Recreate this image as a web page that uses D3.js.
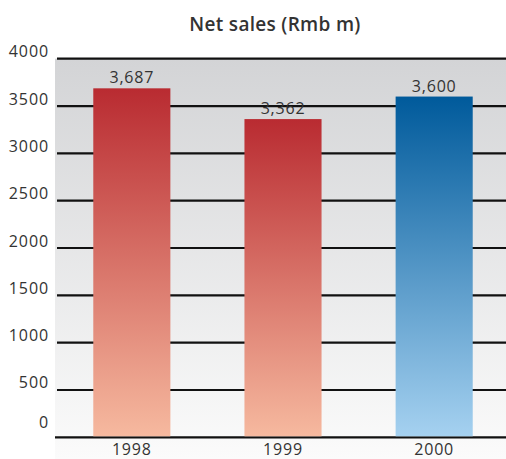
<!DOCTYPE html>
<html>
<head>
<meta charset="utf-8">
<script src="https://cdn.jsdelivr.net/npm/d3@7"></script>
<style>
  body { margin: 0; background: #fff; }
  text { font-family: "Open Sans", "DejaVu Sans", sans-serif; fill: #333; }
</style>
</head>
<body>
<svg id="chart"></svg>
<script>
// Chart data
const years = ["1998", "1999", "2000"];
const netSales = [3687, 3362, 3600];
const valueLabels = ["3,687", "3,362", "3,600"];
const yTicks = [0, 500, 1000, 1500, 2000, 2500, 3000, 3500, 4000];

const width = 506;
const height = 459;

const svg = d3.select("#chart").attr("width", width).attr("height", height);

// Plot area
const plotLeft = 57;
const plotRight = 506;

const y = d3.scaleLinear().domain([0, 4000]).range([437.3, 58.7]);
const x = d3.scaleBand()
  .domain(years)
  .range([57, 509])
  .paddingInner(0.49)
  .paddingOuter(0.24);

const defs = svg.append("defs");

// Background gradient (grey at top fading to near white)
const bg = defs.append("linearGradient")
  .attr("id", "bg-grad")
  .attr("x1", 0).attr("y1", 0).attr("x2", 0).attr("y2", 1);
bg.append("stop").attr("offset", "0%").attr("stop-color", "#d3d4d6");
bg.append("stop").attr("offset", "100%").attr("stop-color", "#fbfbfb");

// Bar gradients
function barGradient(id, top, bottom) {
  const g = defs.append("linearGradient")
    .attr("id", id)
    .attr("x1", 0).attr("y1", 0).attr("x2", 0).attr("y2", 1);
  g.append("stop").attr("offset", "0%").attr("stop-color", top);
  g.append("stop").attr("offset", "100%").attr("stop-color", bottom);
}
barGradient("red-grad", "#b92b31", "#f6b99f");
barGradient("blue-grad", "#005a9b", "#a5d1f0");

svg.append("rect")
  .attr("x", 55)
  .attr("y", y(4000))
  .attr("width", width - 55)
  .attr("height", height - y(4000))
  .attr("fill", "url(#bg-grad)");

// Title
svg.append("text")
  .attr("x", 275)
  .attr("y", 31)
  .attr("text-anchor", "middle")
  .attr("font-size", 19)
  .attr("font-weight", 600)
  .attr("letter-spacing", 0.3)
  .text("Net sales (Rmb m)");

// Grid lines
svg.append("g")
  .selectAll("line")
  .data(yTicks)
  .join("line")
  .attr("x1", d => (d === 0 ? 55 : plotLeft))
  .attr("x2", plotRight)
  .attr("y1", d => y(d))
  .attr("y2", d => y(d))
  .attr("stroke", "#111")
  .attr("stroke-width", 2.2);

// Y tick labels
svg.append("g")
  .selectAll("text")
  .data(yTicks)
  .join("text")
  .attr("x", 49)
  .attr("y", d => y(d) - (d === 0 ? 9 : 1.5))
  .attr("text-anchor", "end")
  .attr("font-size", 16)
  .attr("letter-spacing", 0.9)
  .text(d => d);

// Bars
svg.append("g")
  .selectAll("rect")
  .data(netSales)
  .join("rect")
  .attr("x", (d, i) => x(years[i]))
  .attr("width", x.bandwidth())
  .attr("y", d => y(d))
  .attr("height", d => y(0) - y(d) - 1)
  .attr("fill", (d, i) => (years[i] === "2000" ? "url(#blue-grad)" : "url(#red-grad)"));

// Value labels
svg.append("g")
  .selectAll("text")
  .data(netSales)
  .join("text")
  .attr("x", (d, i) => x(years[i]) + x.bandwidth() / 2)
  .attr("y", d => y(d) - 5)
  .attr("text-anchor", "middle")
  .attr("font-size", 16)
  .attr("letter-spacing", 0.8)
  .text((d, i) => valueLabels[i]);

// X labels
svg.append("g")
  .selectAll("text")
  .data(years)
  .join("text")
  .attr("x", d => x(d) + x.bandwidth() / 2)
  .attr("y", 454.5)
  .attr("text-anchor", "middle")
  .attr("font-size", 16)
  .attr("letter-spacing", 0.8)
  .text(d => d);
</script>
</body>
</html>
